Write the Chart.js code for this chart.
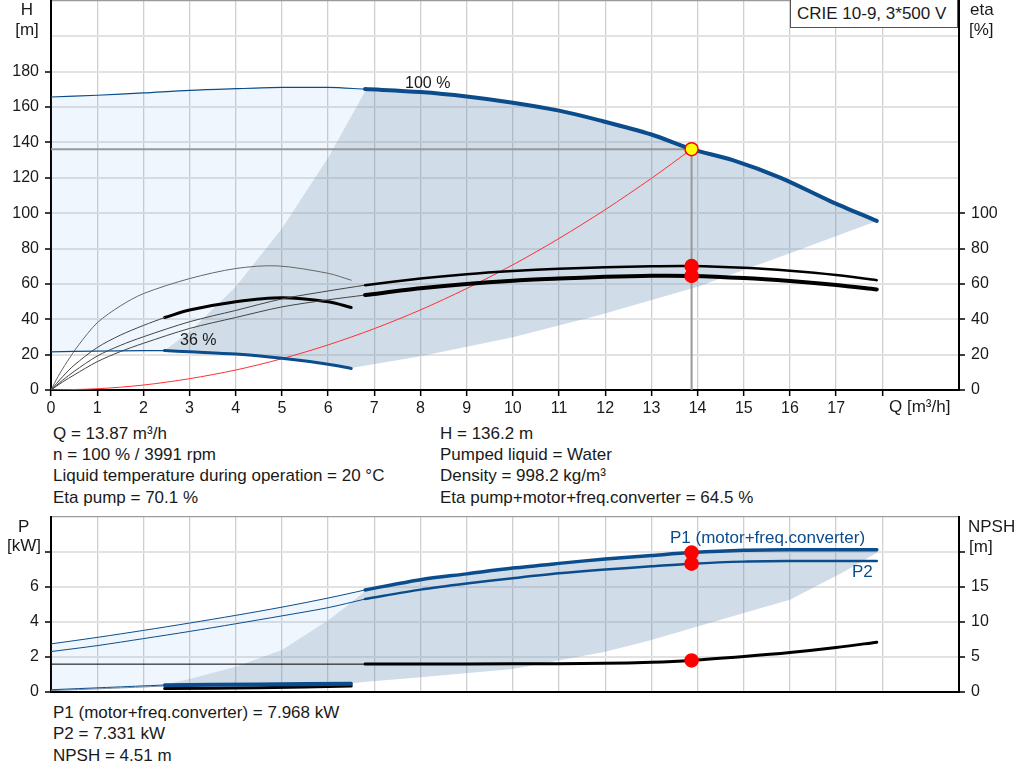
<!DOCTYPE html>
<html lang="en">
<head>
<meta charset="UTF-8" />
<title>CRIE 10-9 pump curve</title>
<script src="https://cdn.jsdelivr.net/npm/chart.js@4"></script>
<style>
  body { margin: 0; background: #fff; }
  #page { position: relative; width: 1024px; height: 781px; overflow: hidden;
          font-family: 'Liberation Sans', Arial, sans-serif; font-size: 17px; color: #1a1a1a; }
  .t { position: absolute; line-height: 20px; white-space: nowrap; }
  .blue { color: #0b4d8c; }
  canvas { position: absolute; left: 0; }
  #top { top: -7px; }
  #bottom { top: 509px; }
  #legendBox { position: absolute; left: 790px; top: -2px; width: 168px; height: 30px;
               border: 1px solid #555; background: #fff; box-sizing: border-box; }
</style>
</head>
<body>
<div id="page">
  <canvas id="top" width="1024" height="429"></canvas>
  <canvas id="bottom" width="1024" height="191"></canvas>

  <div id="legendBox"><div class="t" style="left:6px; top:5px;">CRIE 10-9, 3*500 V</div></div>

  <div class="t" style="left:0; width:54px; text-align:center; top:0;">H</div>
  <div class="t" style="left:0; width:54px; text-align:center; top:20px;">[m]</div>
  <div class="t" style="left:970px; top:0;">eta</div>
  <div class="t" style="left:969px; top:20px;">[%]</div>
  <div class="t" style="left:405px; top:73px; font-size:16px;">100 %</div>
  <div class="t" style="left:180px; top:330px; font-size:16px;">36 %</div>
  <div class="t" style="left:889px; top:397px;">Q [m³/h]</div>

  <div class="t" style="left:53px; top:424px;">Q = 13.87 m³/h</div>
  <div class="t" style="left:53px; top:445px;">n = 100 % / 3991 rpm</div>
  <div class="t" style="left:53px; top:466px;">Liquid temperature during operation = 20 °C</div>
  <div class="t" style="left:53px; top:488px;">Eta pump = 70.1 %</div>
  <div class="t" style="left:440px; top:424px;">H = 136.2 m</div>
  <div class="t" style="left:440px; top:445px;">Pumped liquid = Water</div>
  <div class="t" style="left:440px; top:466px;">Density = 998.2 kg/m³</div>
  <div class="t" style="left:440px; top:488px;">Eta pump+motor+freq.converter = 64.5 %</div>

  <div class="t" style="left:18px; top:517px;">P</div>
  <div class="t" style="left:7px; top:536px;">[kW]</div>
  <div class="t" style="left:968px; top:517px;">NPSH</div>
  <div class="t" style="left:969px; top:537px;">[m]</div>
  <div class="t blue" style="left:670px; top:528px;">P1 (motor+freq.converter)</div>
  <div class="t blue" style="left:852px; top:562px;">P2</div>

  <div class="t" style="left:53px; top:703px;">P1 (motor+freq.converter) = 7.968 kW</div>
  <div class="t" style="left:53px; top:724px;">P2 = 7.331 kW</div>
  <div class="t" style="left:53px; top:746px;">NPSH = 4.51 m</div>
</div>

<script>
  // ---- head / efficiency (top chart) ----
  const qH100 = [6.8, 8, 9, 10, 11, 11.88, 13, 13.87, 14.76, 15.8, 16.86, 17.88];
  const h100 = [170.2, 168.5, 166, 162.5, 158, 152.5, 144.5, 136.2, 130, 120, 107, 95.6];
  const qH100Thin = [0, 1, 2, 3, 4, 5, 6, 6.8];
  const h100Thin = [165.7, 166.7, 168, 169.5, 170.4, 171.1, 171.1, 170.2];
  const qH36Thin = [0, 1, 2, 2.46];
  const h36Thin = [21.6, 22, 22.3, 22.3];
  const qH36 = [2.46, 3, 4, 5, 6, 6.5];
  const h36 = [22.3, 21.6, 20.3, 17.9, 14.6, 12.2];

  const qEta = [6.8, 8, 9, 10, 11, 12, 13, 13.87, 15, 16, 17, 17.88];
  const etaPump = [59.3, 63, 65.5, 67.3, 68.6, 69.4, 70, 70.1, 69.1, 67.4, 65, 62.1];
  const etaTotal = [53.7, 57.5, 60, 61.8, 63, 64, 64.6, 64.5, 63.3, 61.6, 59.4, 56.9];
  const qEtaThin = [0, 0.25, 0.5, 1, 1.5, 2, 3, 4, 5, 6, 6.8];
  const etaPumpThin = [0, 5.5, 10.5, 19.2, 25.2, 30.1, 38.6, 45, 51.5, 56, 59.3];
  const etaTotalThin = [0, 4.5, 8.5, 16, 21.7, 26.4, 34.8, 41, 47, 51, 53.7];
  const qEta36Pump = [0, 0.15, 0.35, 0.6, 1, 1.5, 2, 3, 4, 4.9, 6, 6.5];
  const eta36Pump = [0, 7.5, 16, 25.5, 38, 47.5, 54.5, 63, 68.7, 70.2, 66, 62.1];
  const qEta36Thin = [0, 0.25, 0.5, 1, 1.5, 2, 2.46];
  const eta36TotalThin = [0, 7.5, 14, 24, 31, 36.5, 41];
  const qEta36 = [2.46, 3, 4, 5, 6, 6.5];
  const eta36Total = [41, 45.2, 49.9, 52.2, 49.9, 46.7];

  const qSystem = [0, 1, 2, 3, 4, 5, 6, 7, 8, 9, 10, 11, 12, 13, 13.87];
  const hSystem = [0, 0.7, 2.8, 6.4, 11.3, 17.7, 25.5, 34.7, 45.3, 57.4, 70.8, 85.7, 102, 119.7, 136.2];

  // edges of the operating range
  const qMinFlow = [2.46, 3, 4, 5, 6, 6.83];
  const hMinFlow = [22.3, 32.9, 58.4, 91.3, 131.4, 170.3];
  const qMaxFlow = [6.5, 8, 10, 11.88, 14, 16, 17.88];
  const hMaxFlow = [12.4, 19.1, 29.9, 42.4, 58.4, 77.4, 95.6];

  const dutyQ = 13.87;
  const dutyH = 136.2;
  const dutyEta = [70.1, 64.5];

  // ---- power / NPSH (bottom chart) ----
  const qPower = [6.8, 8, 9, 10, 11, 12, 13, 13.87, 15, 16, 17, 17.88];
  const p1 = [5.83, 6.42, 6.75, 7.08, 7.35, 7.6, 7.8, 7.968, 8.1, 8.13, 8.13, 8.13];
  const p2 = [5.31, 5.85, 6.2, 6.5, 6.78, 7.0, 7.18, 7.331, 7.45, 7.48, 7.48, 7.48];
  const qPowerThin = [0, 1, 2, 3, 4, 5, 6, 6.8];
  const p1Thin = [2.75, 3.12, 3.52, 3.94, 4.38, 4.85, 5.37, 5.83];
  const p2Thin = [2.31, 2.65, 3.05, 3.46, 3.9, 4.35, 4.82, 5.31];
  const qP36Thin = [0, 1.2, 2.46];
  const p1_36Thin = [0.13, 0.26, 0.4];
  const p2_36Thin = [0.08, 0.2, 0.34];
  const qP36 = [2.46, 4.5, 6.5];
  const p1_36 = [0.42, 0.46, 0.5];
  const p2_36 = [0.36, 0.4, 0.44];
  const npsh36 = [0.5, 0.6, 0.85];

  const qNpsh = [6.8, 8, 10, 12, 13, 13.87, 15, 16, 17, 17.88];
  const npsh = [4.0, 4.0, 4.02, 4.1, 4.25, 4.51, 5.06, 5.63, 6.35, 7.12];
  const qNpshThin = [0, 6.8];
  const npshThin = [3.98, 3.98];

  const qMinP = [2.46, 3, 4, 5, 6, 6.4, 6.83];
  const pMin = [0.42, 0.75, 1.45, 2.4, 4.1, 4.9, 5.83];
  const qMaxP = [6.5, 6.83, 8, 10, 12, 12.96, 13.87, 15, 16, 17.19, 17.88];
  const pMax = [0.5, 0.59, 0.85, 1.32, 2.3, 2.95, 3.65, 4.51, 5.27, 6.9, 7.96];

  const dutyP = [7.968, 7.331];
  const dutyNpsh = 4.51;

  // ---- helpers ----
  const BLUE = '#0b4d8c';
  const GRAY_FILL = 'rgba(100, 140, 175, 0.3)';
  const LIGHT_FILL = 'rgba(80, 160, 240, 0.09)';
  const FONT = { family: "'Liberation Sans', Arial, sans-serif", size: 16 };
  const XMAX = 19.66;

  const pts = (xs, ys) => xs.map((x, i) => ({ x: x, y: ys[i] }));
  const rev = a => a.slice().reverse();

  function line(data, color, width, axis, tension) {
    return {
      data: data, yAxisID: axis, showLine: true, borderColor: color, borderWidth: width,
      pointRadius: 0, tension: tension === undefined ? 0.3 : tension, fill: false, order: 5,
      borderCapStyle: 'round'
    };
  }
  function area(data, color, axis) {
    return {
      data: data, yAxisID: axis, showLine: true, borderWidth: 0, borderColor: 'transparent',
      backgroundColor: color, pointRadius: 0, tension: 0, fill: 'shape', order: 10
    };
  }
  function dots(data, axis, fillColor) {
    return {
      data: data, yAxisID: axis, showLine: false, pointRadius: 6.5, pointHoverRadius: 6.5,
      backgroundColor: fillColor, borderColor: '#ff0000', borderWidth: 1.5, order: 0
    };
  }
  // fixed axis sizes so the plot area lands where the reference has it
  function fixWidth(w) {
    return s => { s.width = w; s.paddingTop = 0; s.paddingBottom = 0; };
  }
  function fixHeight(h) {
    return s => { s.height = h; s.paddingLeft = 0; s.paddingRight = 0; };
  }
  const intTicks = s => { s.ticks = s.ticks.filter(t => Number.isInteger(t.value)); };

  const xScale = (showLabels) => ({
    type: 'linear', min: 0, max: XMAX, afterBuildTicks: intTicks,
    afterFit: fixHeight(showLabels ? 32 : 0),
    border: { color: '#000', width: 2 },
    grid: { color: '#cfcfcf', lineWidth: 1.3, drawTicks: showLabels, tickLength: 6,
            tickColor: '#000', tickWidth: 1.5 },
    ticks: { display: showLabels, stepSize: 1, padding: 3, color: '#1a1a1a', font: FONT,
             maxRotation: 0, autoSkip: false,
             callback: v => (v <= 17 ? v : '') }
  });

  function yScale(position, min, max, step, lastLabel, lastTick, drawGrid, width, pad) {
    return {
      type: 'linear', position: position, min: min, max: max, afterFit: fixWidth(width),
      border: { color: '#000', width: 2 },
      grid: {
        drawOnChartArea: drawGrid, tickLength: 6, tickWidth: 1.5,
        tickColor: c => (c.tick.value <= lastTick ? '#000' : 'rgba(0,0,0,0)'),
        color: c => (c.tick.value === max ? '#9a9a9a' : '#e2e2e2'),
        lineWidth: c => (c.tick.value === max ? 1.2 : 2)
      },
      ticks: { stepSize: step, padding: pad, color: '#1a1a1a', font: FONT,
               callback: v => (v <= lastLabel ? v : '') }
    };
  }

  Chart.defaults.animation = false;

  // ---- top chart ----
  const grayTop = [].concat(pts(qMinFlow, hMinFlow), pts(qH100, h100),
                            rev(pts(qMaxFlow, hMaxFlow)), rev(pts(qH36, h36)));
  const lightTop = [].concat(pts(qH36Thin, h36Thin), pts(qMinFlow, hMinFlow),
                             rev(pts(qH100Thin, h100Thin)));

  new Chart(document.getElementById('top'), {
    type: 'scatter',
    data: {
      datasets: [
        dots([{ x: dutyQ, y: dutyH }], 'y', '#ffff00'),
        dots(dutyEta.map(v => ({ x: dutyQ, y: v })), 'eta', '#ff0000'),
        line(pts(qH100, h100), BLUE, 4, 'y'),
        line(pts(qH100Thin, h100Thin), BLUE, 1.2, 'y'),
        line(pts(qH36, h36), BLUE, 3, 'y'),
        line(pts(qH36Thin, h36Thin), BLUE, 1.2, 'y'),
        line(pts(qEta, etaPump), '#000', 2.5, 'eta'),
        line(pts(qEta, etaTotal), '#000', 4, 'eta'),
        line(pts(qEtaThin, etaPumpThin), '#444', 1, 'eta'),
        line(pts(qEtaThin, etaTotalThin), '#444', 1, 'eta'),
        line(pts(qEta36Pump, eta36Pump), '#666', 1, 'eta'),
        line(pts(qEta36Thin, eta36TotalThin), '#444', 1, 'eta'),
        line(pts(qEta36, eta36Total), '#000', 3, 'eta'),
        line(pts(qSystem, hSystem), '#ff3030', 1, 'y'),
        line([{ x: 0, y: dutyH }, { x: dutyQ, y: dutyH }], '#999', 2, 'y', 0),
        line([{ x: dutyQ, y: dutyH }, { x: dutyQ, y: 0 }], '#999', 2, 'y', 0),
        area(grayTop, GRAY_FILL, 'y'),
        area(lightTop, LIGHT_FILL, 'y')
      ]
    },
    options: {
      responsive: false,
      layout: { padding: { top: 1, left: 0, right: 0, bottom: 0 } },
      plugins: { legend: { display: false }, tooltip: { enabled: false } },
      scales: {
        x: xScale(true),
        y: yScale('left', 0, 220, 20, 180, 180, true, 51, 6),
        eta: yScale('right', 0, 220, 20, 100, 100, false, 65, 6)
      }
    }
  });

  // ---- bottom chart ----
  const grayBottom = [].concat(pts(qMinP, pMin), pts(qPower, p1),
                               rev(pts(qMaxP, pMax)), rev(pts(qP36, p1_36)));
  const lightBottom = [].concat(pts(qP36Thin, p1_36Thin), pts(qMinP, pMin),
                                rev(pts(qPowerThin, p1Thin)));

  new Chart(document.getElementById('bottom'), {
    type: 'scatter',
    data: {
      datasets: [
        dots(dutyP.map(v => ({ x: dutyQ, y: v })), 'p', '#ff0000'),
        dots([{ x: dutyQ, y: dutyNpsh }], 'npsh', '#ff0000'),
        line(pts(qPower, p1), BLUE, 3.5, 'p'),
        line(pts(qPower, p2), BLUE, 2.5, 'p'),
        line(pts(qPowerThin, p1Thin), BLUE, 1, 'p'),
        line(pts(qPowerThin, p2Thin), BLUE, 1, 'p'),
        line(pts(qP36, p1_36), BLUE, 3, 'p'),
        line(pts(qP36, p2_36), BLUE, 3, 'p'),
        line(pts(qP36Thin, p1_36Thin), BLUE, 1, 'p'),
        line(pts(qP36Thin, p2_36Thin), '#7a8fa6', 1, 'p'),
        line(pts(qP36, npsh36), '#000', 3, 'npsh'),
        line(pts(qNpsh, npsh), '#000', 3, 'npsh'),
        line(pts(qNpshThin, npshThin), '#000', 1, 'npsh', 0),
        area(grayBottom, GRAY_FILL, 'p'),
        area(lightBottom, LIGHT_FILL, 'p')
      ]
    },
    options: {
      responsive: false,
      layout: { padding: { top: 8, left: 0, right: 0, bottom: 8 } },
      plugins: { legend: { display: false }, tooltip: { enabled: false } },
      scales: {
        x: xScale(false),
        p: yScale('left', 0, 10, 2, 6, 8, true, 51, 6),
        npsh: yScale('right', 0, 25, 5, 15, 20, false, 65, 6)
      }
    }
  });
</script>
</body>
</html>
